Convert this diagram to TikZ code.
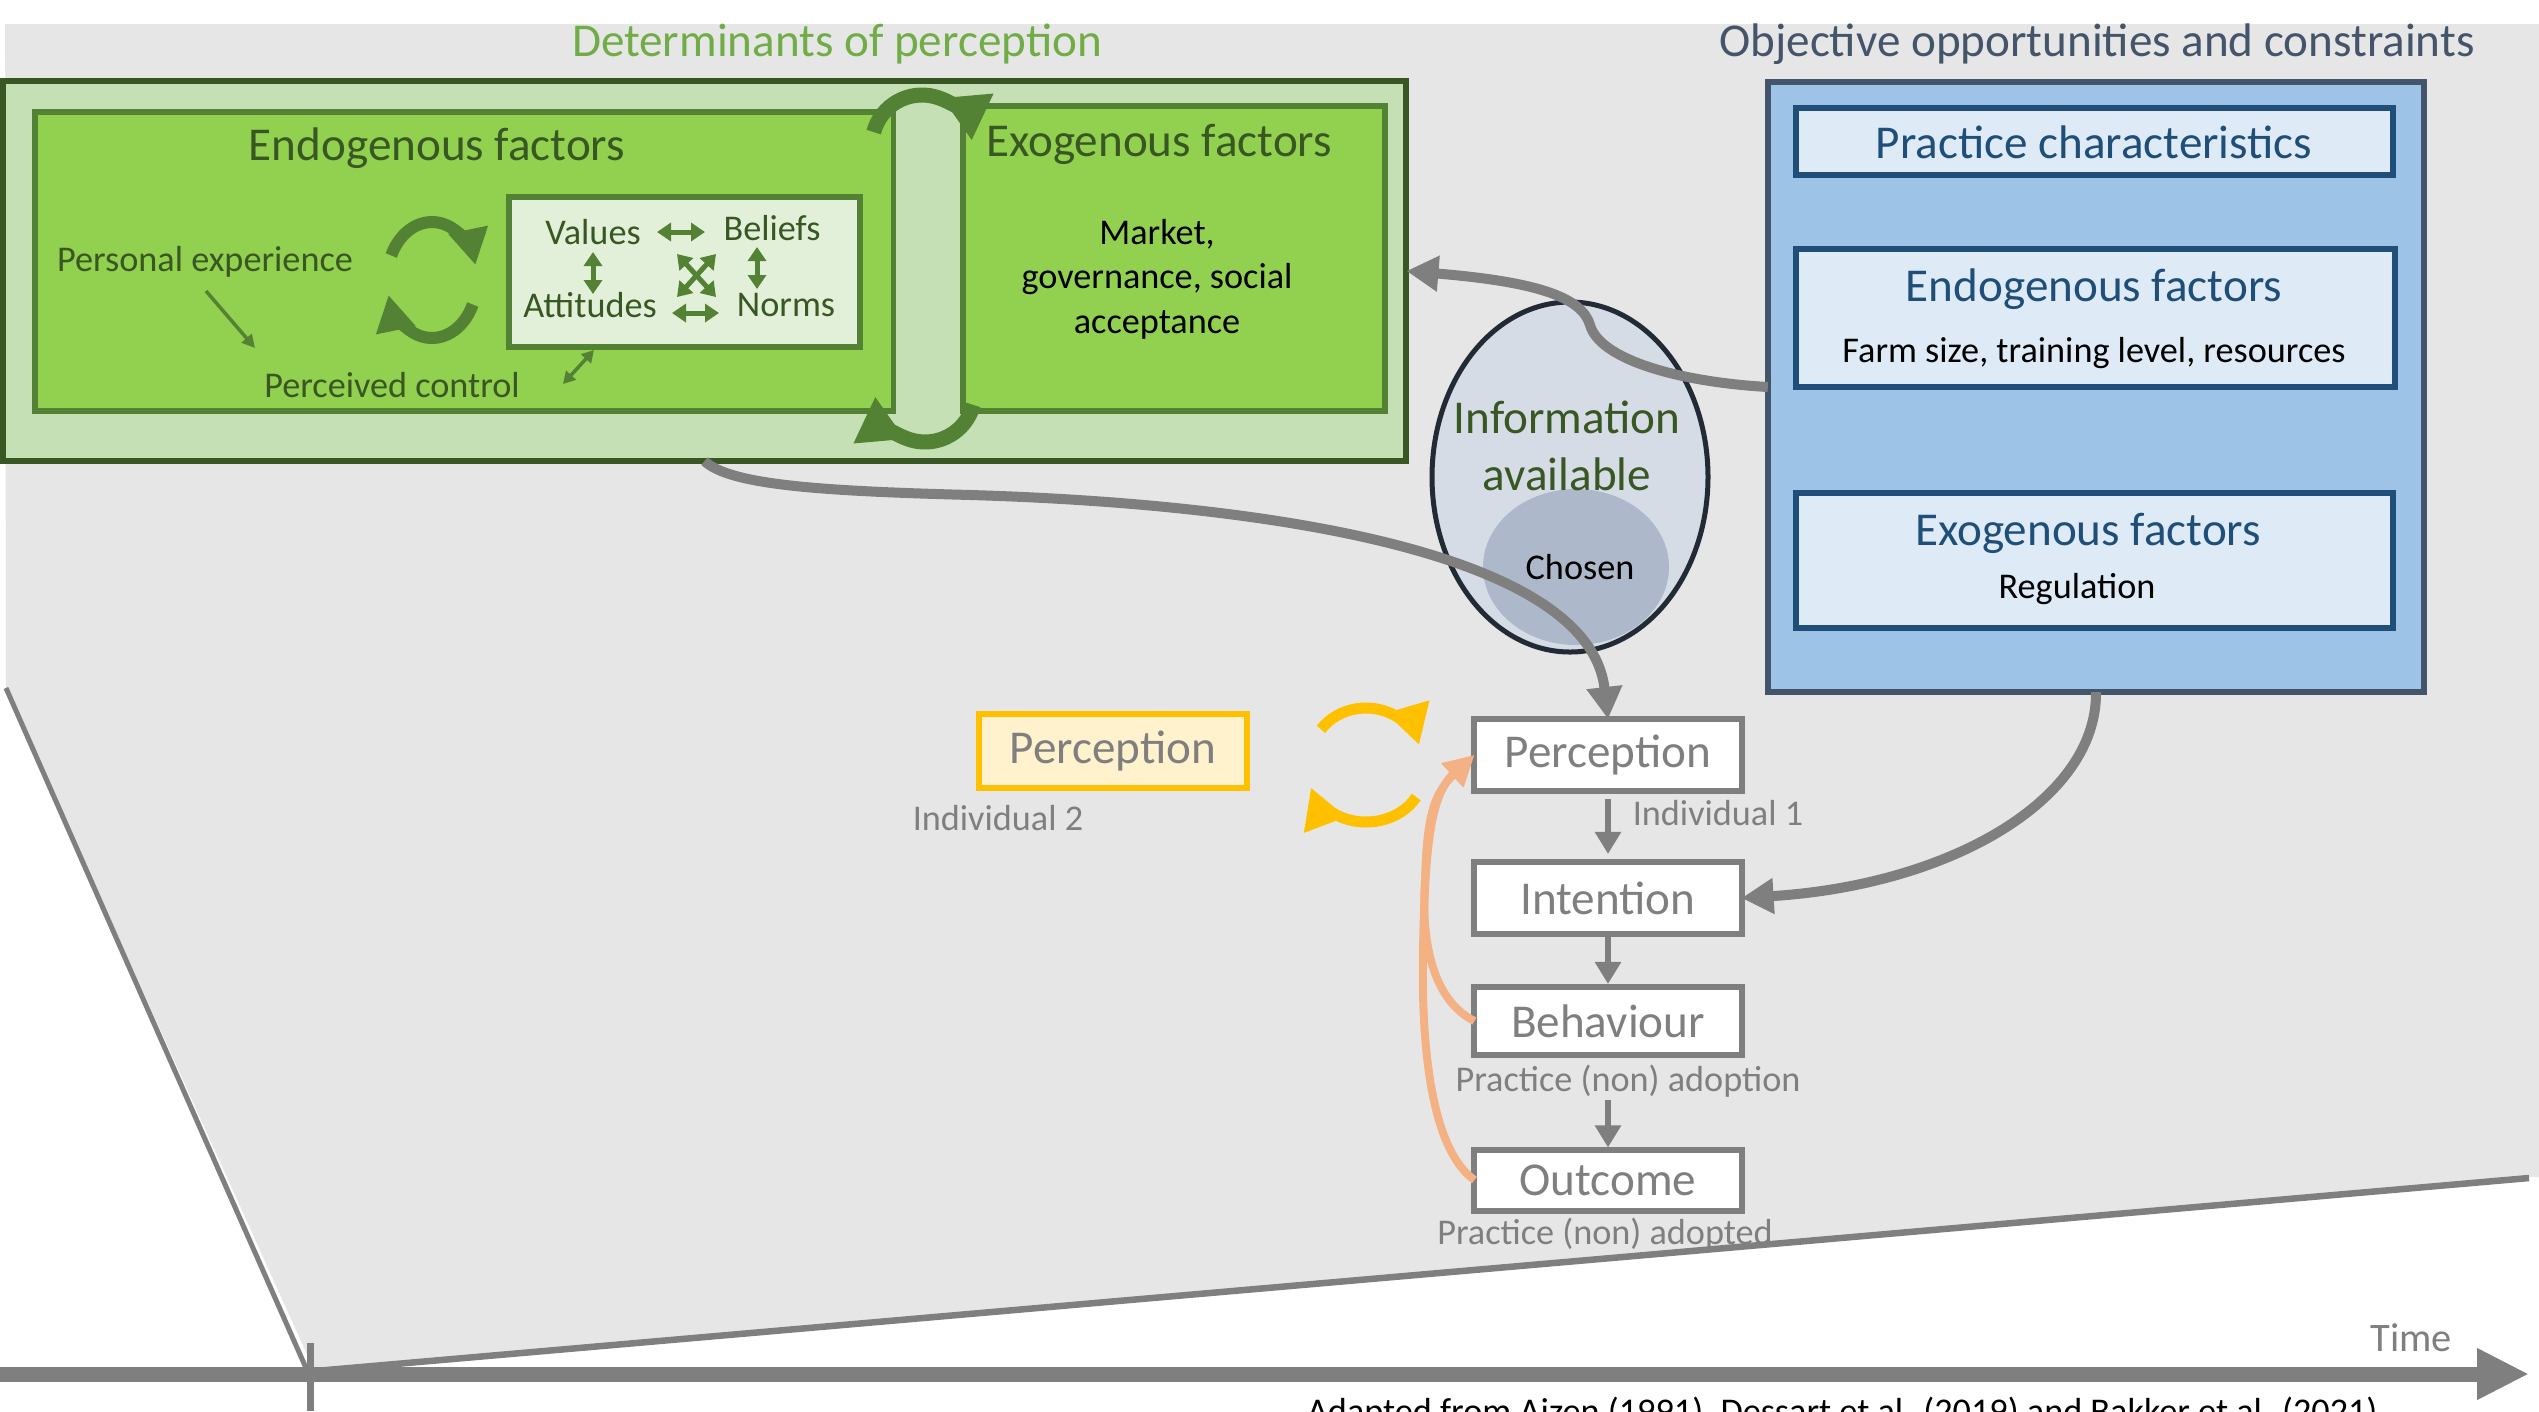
\documentclass[tikz,border=0pt]{standalone}
\usepackage{fontspec}
\setmainfont{Carlito}
\usetikzlibrary{arrows.meta}
\definecolor{GDark}{HTML}{385723}
\definecolor{GMid}{HTML}{548235}
\definecolor{GFill}{HTML}{92D050}
\definecolor{GLight}{HTML}{C5E0B4}
\definecolor{GVal}{HTML}{E2F0D9}
\definecolor{GTitle}{HTML}{70AD47}
\definecolor{BFill}{HTML}{9DC3E6}
\definecolor{BBorder}{HTML}{44546A}
\definecolor{BInner}{HTML}{DEEBF7}
\definecolor{BInBorder}{HTML}{1F4E79}
\definecolor{EllFill}{HTML}{D6DCE5}
\definecolor{EllBorder}{HTML}{222A35}
\definecolor{ChosenFill}{HTML}{ADB9CA}
\definecolor{Gry}{HTML}{7F7F7F}
\definecolor{BG}{HTML}{E7E6E6}
\definecolor{Yel}{HTML}{FFC000}
\definecolor{YFill}{HTML}{FFF2CC}
\definecolor{Salmon}{HTML}{F4B183}
\newcommand\myHead{\fontsize{13.4}{16.2}\selectfont}
\newcommand\mySmall{\fontsize{10.3}{12.66}\selectfont}
\newcommand\myTime{\fontsize{11.5}{14}\selectfont}
\begin{document}
\begin{tikzpicture}[x=0.01cm,y=-0.01cm,every node/.style={inner sep=0pt,outer sep=0pt}]
\tikzset{
  gouter/.style={draw=GDark, fill=GLight, line width=0.06cm},
  ginner/.style={draw=GMid, fill=GFill, line width=0.055cm},
  gval/.style={draw=GMid, fill=GVal, line width=0.055cm},
  bouter/.style={draw=BBorder, fill=BFill, line width=0.055cm},
  binner/.style={draw=BInBorder, fill=BInner, line width=0.065cm},
  proc/.style={draw=Gry, fill=white, line width=0.06cm, text=Gry, font=\myHead},
  yproc/.style={draw=Yel, fill=YFill, line width=0.06cm, text=Gry, font=\myHead},
  headtxt/.style={font=\myHead},
  smalltxt/.style={font=\mySmall},
  gconn/.style={draw=Gry, line width=0.1cm, -{Triangle[length=0.32cm,width=0.34cm]}},
  pconn/.style={draw=Gry, line width=0.06cm, -{Triangle[length=0.22cm,width=0.25cm]}},
  bigarc/.style={draw=GMid, line width=0.15cm, -{Triangle[length=0.45cm,width=0.48cm]}},
  iconarc/.style={draw=GMid, line width=0.12cm, -{Triangle[length=0.36cm,width=0.38cm]}},
  orarc/.style={draw=Yel, line width=0.11cm, -{Triangle[length=0.4cm,width=0.42cm]}},
  salconn/.style={draw=Salmon, line width=0.08cm, -{Triangle[length=0.3cm,width=0.3cm]}},
  valarrow/.style={draw=GMid, line width=0.05cm, {Triangle[length=0.14cm,width=0.18cm]}-{Triangle[length=0.14cm,width=0.18cm]}},
  thinarrow/.style={draw=GMid, line width=0.035cm, -{Triangle[length=0.13cm,width=0.13cm]}}
}
\useasboundingbox (0,0) rectangle (2539,1411);
% background
\fill[white] (0,0) rectangle (2539,1411);
\fill[BG] (5,24) -- (2539,24) -- (2539,1177) -- (2529,1177) -- (315,1372) -- (6,688) -- cycle;
% time frame lines
\coordinate (dl1) at (6,688);
\coordinate (dl2) at (306,1368);
\draw[Gry, line width=0.05cm] (dl1) -- (dl2);
\coordinate (rl1) at (315,1371);
\coordinate (rl2) at (2529,1178);
\draw[Gry, line width=0.065cm] (rl1) -- (rl2);
\coordinate (ax1) at (0,1374);
\coordinate (ax2) at (2529,1374);
\draw[Gry, line width=0.15cm, -{Triangle[length=0.52cm,width=0.48cm]}] (ax1) -- (ax2);
\coordinate (tk1) at (310,1343);
\coordinate (tk2) at (310,1411);
\draw[Gry, line width=0.07cm] (tk1) -- (tk2);
\node[font=\myTime, text=Gry] (time) at (2411,1338) {Time};
\node[font=\mySmall, anchor=base west] (caption) at (1307,1423) {Adapted from Ajzen (1991), Dessart et al. (2019) and Bakker et al. (2021)};

% titles
\node[headtxt, text=GTitle] (tDet) at (837,44) {Determinants of perception};
\node[headtxt, text=BBorder] (tObj) at (2097,44) {Objective opportunities and constraints};

% green block
\node[gouter, minimum width=14.03cm, minimum height=3.80cm] (outerG) at (704.5,271) {};
\node[ginner, minimum width=8.58cm, minimum height=2.99cm] (endoG) at (464,261.5) {};
\node[ginner, minimum width=4.22cm, minimum height=3.05cm] (exoG) at (1174,258.5) {};
\node[gval, minimum width=3.51cm, minimum height=1.50cm] (valB) at (684.5,272) {};
\node[headtxt, text=GDark] (tEndoG) at (437,148) {Endogenous factors};
\node[headtxt, text=GDark] (tExoG) at (1159,144) {Exogenous factors};
\node[smalltxt, text=GDark] (persexp) at (205,262) {Personal experience};
\node[smalltxt, text=GDark] (percctrl) at (392,385) {Perceived control};
\node[smalltxt, text=GDark] (values) at (593,232) {Values};
\node[smalltxt, text=GDark] (beliefs) at (772,228) {Beliefs};
\node[smalltxt, text=GDark] (attitudes) at (590,305) {Attitudes};
\node[smalltxt, text=GDark] (norms) at (786,305) {Norms};
\node[smalltxt, align=center] (market) at (1157,279) {Market,\\governance, social\\acceptance};

% arrows in values box
\coordinate (va1) at (657,232); \coordinate (va2) at (705,232);
\draw[valarrow] (va1) -- (va2);
\coordinate (vb1) at (672,313); \coordinate (vb2) at (719,313);
\draw[valarrow] (vb1) -- (vb2);
\coordinate (vc1) at (593,252); \coordinate (vc2) at (593,294);
\draw[valarrow] (vc1) -- (vc2);
\coordinate (vd1) at (757,247); \coordinate (vd2) at (757,289);
\draw[valarrow] (vd1) -- (vd2);
\coordinate (ve1) at (677,254); \coordinate (ve2) at (716,297);
\draw[valarrow] (ve1) -- (ve2);
\coordinate (vf1) at (716,254); \coordinate (vf2) at (677,297);
\draw[valarrow] (vf1) -- (vf2);
% values box to perceived control
\coordinate (vp1) at (594,350); \coordinate (vp2) at (563,384);
\draw[draw=GMid, line width=0.035cm, {Triangle[length=0.12cm,width=0.13cm]}-{Triangle[length=0.12cm,width=0.13cm]}] (vp1) -- (vp2);
% personal experience to perceived control
\coordinate (pe1) at (206,291); \coordinate (pe2) at (255,348);
\draw[thinarrow] (pe1) -- (pe2);
% cycle icon
\draw[iconarc] (432,280) ++(205:45 and 58) arc[start angle=205, end angle=345, x radius=45, y radius=58];
\draw[iconarc] (432,280) ++(25:45 and 58) arc[start angle=25, end angle=165, x radius=45, y radius=58];
% big arcs between endogenous and exogenous
\draw[bigarc] (922,145) ++(195:50) arc[start angle=195, end angle=355, radius=50];
\draw[bigarc] (925,392) ++(15:50) arc[start angle=15, end angle=175, radius=50];

% blue block
\node[bouter, minimum width=6.56cm, minimum height=6.10cm] (blueOuter) at (2096,387) {};
\node[binner, minimum width=5.97cm, minimum height=0.67cm] (pcB) at (2094.5,141.5) {};
\node[binner, minimum width=5.99cm, minimum height=1.38cm] (endoB) at (2095.5,318) {};
\node[binner, minimum width=5.97cm, minimum height=1.35cm] (exoB) at (2094.5,560.5) {};
\node[headtxt, text=BInBorder] (tPC) at (2094,142.5) {Practice characteristics};
\node[headtxt, text=BInBorder] (tEndoB) at (2094,289.5) {Endogenous factors};
\node[smalltxt] (farm) at (2094,353) {Farm size, training level, resources};
\node[headtxt, text=BInBorder] (tExoB) at (2088,533) {Exogenous factors};
\node[smalltxt] (reg) at (2077,589) {Regulation};

% information ellipse
\fill[EllFill] (1570,477) ellipse [x radius=138, y radius=175];
\begin{scope}
\clip (1570,477) ellipse [x radius=138, y radius=175];
\fill[ChosenFill] (1576,567) ellipse [x radius=93, y radius=78];
\end{scope}
\draw[EllBorder, line width=0.05cm] (1570,477) ellipse [x radius=138, y radius=175];
\node[align=center, font=\myHead, text=GDark] (info) at (1567,446) {Information\\available};
\node[smalltxt] (chosen) at (1580,567) {Chosen};

% process boxes
\node[proc, minimum width=2.67cm, minimum height=0.72cm] (perc1) at (1608,755) {Perception};
\node[proc, minimum width=2.67cm, minimum height=0.72cm] (intent) at (1608,898) {Intention};
\node[proc, minimum width=2.67cm, minimum height=0.68cm] (behav) at (1608,1021) {Behaviour};
\node[proc, minimum width=2.67cm, minimum height=0.61cm] (outc) at (1608,1180) {Outcome};
\node[yproc, minimum width=2.68cm, minimum height=0.74cm] (perc2) at (1113,751) {Perception};
\node[smalltxt, text=Gry] (ind2) at (998,818) {Individual 2};
\node[smalltxt, text=Gry] (ind1) at (1718,813) {Individual 1};
\node[smalltxt, text=Gry] (pna) at (1628,1081) {Practice (non) adoption};
\node[smalltxt, text=Gry] (pnd) at (1605,1234) {Practice (non) adopted};

% process arrows
\draw[pconn, shorten <=0.08cm, shorten >=0.08cm] (perc1.south) -- (intent.north);
\draw[pconn, shorten >=0.03cm] (intent.south) -- (behav.north);
\draw[pconn, shorten <=0.45cm, shorten >=0.02cm] (behav.south) -- (outc.north);

% salmon feedback arrows
\draw[salconn] (outc.west) .. controls (1432,1150) and (1421,1050) .. (1423,950) .. controls (1425,850) and (1430,795) .. (perc1.west);
\draw[salconn] (behav.west) .. controls (1432,1000) and (1421,940) .. (1425,880) .. controls (1427,820) and (1432,795) .. (perc1.west);

% orange exchange arrows
\draw[orarc] (1366,758) ++(215:55 and 50) arc[start angle=215, end angle=345, x radius=55, y radius=50];
\draw[orarc] (1366,772) ++(30:58 and 50) arc[start angle=30, end angle=162, x radius=58, y radius=50];

% gray connectors
\draw[gconn] (blueOuter.west) .. controls (1680,382) and (1600,360) .. (1590,325) .. controls (1582,298) and (1540,282) .. (outerG.east);
\draw[gconn] (outerG.south) .. controls (730,485) and (820,491) .. (971,495) .. controls (1300,505) and (1590,560) .. (perc1.north);
\draw[gconn] (blueOuter.south) .. controls (2097,800) and (1950,885) .. (intent.east);
\end{tikzpicture}
\end{document}
